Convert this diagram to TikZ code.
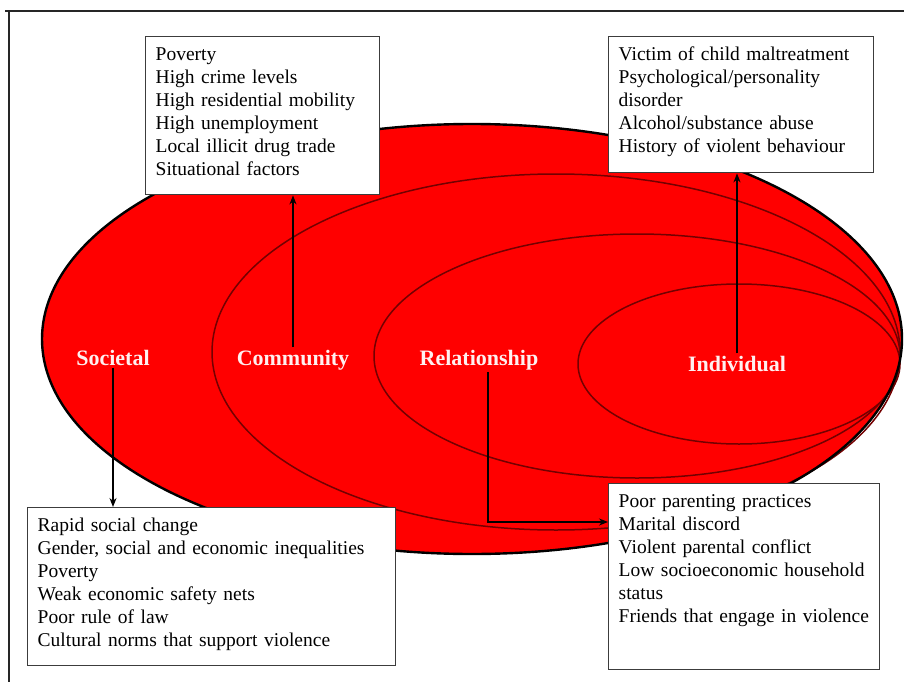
\documentclass[tikz,border=0pt]{standalone}
\usepackage{fontspec}
\setmainfont{Liberation Serif}
\usepackage{tikz}
\usetikzlibrary{arrows.meta,positioning}
\definecolor{ringred}{RGB}{255,0,0}
\definecolor{ringline}{RGB}{115,0,0}
\definecolor{boxline}{RGB}{60,60,60}
\tikzset{
  every picture/.style = {
    thick,
    >={Stealth[length=9pt, width=7pt]},
  }
  ,
  frame/.style = {
    draw = black!85,
    line width = 1.4pt
  }
  ,
  outer-ring/.style = {
    draw = black,
    line width = 2.4pt
  }
  ,
  ring/.style = {
    draw = ringline,
    line width = 1.5pt
  }
  , % names of the levels
  label-level/.style = {
    font = \fontsize{22}{26}\selectfont\bfseries,
    text = white!94!red,
    anchor = base,
    inner sep = 2pt
  }
  , % lists of risk factors
  factors/.style = {
    rectangle,
    draw = boxline,
    fill = white,
    line width = 1.4pt,
    font = \fontsize{19.5}{23}\selectfont,
    align = left,
    anchor = north west,
    inner xsep = 10pt,
    inner ysep = 10pt,
    text height = 14pt
  }
  ,
  link/.style = {
    ->,
    line width = 1.4pt
  }
}
\begin{document}
\begin{tikzpicture}[x=1pt,y=-1pt]
    \useasboundingbox (0,0) rectangle (904,682);
    \draw [frame] (5,11) -- (904,11);
    \draw [frame] (9,11) -- (9,682);
    \fill [ringred] (472,339) ellipse [x radius=430, y radius=215];
    \draw [ring] (556,352) ellipse [x radius=344, y radius=178];
    \draw [ring] (637,356) ellipse [x radius=263, y radius=122];
    \draw [ring] (739,364) ellipse [x radius=161, y radius=80];
    \draw [outer-ring] (472,339) ellipse [x radius=430, y radius=215];
    \node [factors, text width=214pt, text depth=124pt] (com-box) at (145,36)
      {Poverty\\High crime levels\\High residential mobility\\High unemployment\\Local illicit drug trade\\Situational factors};
    \node [factors, text width=245pt, text depth=102pt] (ind-box) at (608,36)
      {Victim of child maltreatment\\Psychological/personality\\disorder\\Alcohol/substance abuse\\History of violent behaviour};
    \node [factors, text width=348pt, text depth=124pt] (soc-box) at (27,507)
      {Rapid social change\\Gender, social and economic inequalities\\Poverty\\Weak economic safety nets\\Poor rule of law\\Cultural norms that support violence};
    \node [factors, text width=251pt, text depth=152pt] (rel-box) at (608,483)
      {Poor parenting practices\\Marital discord\\Violent parental conflict\\Low socioeconomic household\\status\\Friends that engage in violence};
    \node [label-level] (soc) at (113,365) {Societal};
    \node [label-level] (com) at (293,365) {Community};
    \node [label-level] (rel) at (479,365) {Relationship};
    \node [label-level] (ind) at (737,371) {Individual};
    \coordinate (rel-turn) at (488,522);
    \draw [link] (soc.south) -- (soc.south |- soc-box.north);
    \draw [link] (com.north) -- (com.north |- com-box.south);
    \draw [link] (ind.north) -- (ind.north |- ind-box.south);
    \draw [link] (rel.south -| rel-turn) -- (rel-turn) -- (rel-box.west |- rel-turn);
\end{tikzpicture}
\end{document}
